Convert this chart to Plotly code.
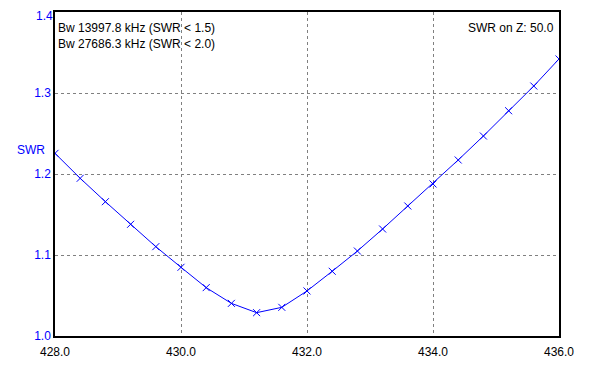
import plotly.graph_objects as go

freq_mhz = [428.0, 428.4, 428.8, 429.2, 429.6, 430.0, 430.4, 430.8, 431.2, 431.6,
            432.0, 432.4, 432.8, 433.2, 433.6, 434.0, 434.4, 434.8, 435.2, 435.6, 436.0]
swr = [1.2255, 1.1947, 1.1658, 1.1379, 1.1103, 1.0848, 1.0597, 1.0403, 1.0288, 1.0354,
       1.0556, 1.0799, 1.1049, 1.1321, 1.1605, 1.1877, 1.2173, 1.2469, 1.2781, 1.3086, 1.3420]
x_ticks = [428.0, 430.0, 432.0, 434.0, 436.0]
y_ticks = [1.0, 1.1, 1.2, 1.3, 1.4]
info_left = ["Bw 13997.8 kHz (SWR < 1.5)", "Bw 27686.3 kHz (SWR < 2.0)"]
info_right = "SWR on Z: 50.0"
y_title = "SWR"

fig = go.Figure()
fig.add_trace(go.Scatter(
    x=freq_mhz, y=swr, mode="lines+markers",
    line=dict(color="#0000ff", width=1),
    marker=dict(symbol="x-thin", size=7, line=dict(color="#0000ff", width=1), color="#0000ff"),
    cliponaxis=True, showlegend=False, hoverinfo="skip"))

font = dict(family="Arial, Liberation Sans, sans-serif", size=12, color="black")
blue_font = dict(family=font["family"], size=12, color="#0000ff")
# top tick label is drawn as an annotation so it is not clipped by the page edge
y_ticktext = [f"{v:.1f}" for v in y_ticks[:-1]] + [""]

fig.update_layout(
    width=590, height=350,
    margin=dict(l=47, r=39, t=4, b=22, pad=0),
    paper_bgcolor="white", plot_bgcolor="white",
    font=font,
    xaxis=dict(range=[428, 436], tickvals=x_ticks, ticktext=[f"{v:.1f}" for v in x_ticks],
               showgrid=True, gridcolor="#808080", griddash="3px,3px", gridwidth=1,
               showline=True, linecolor="black", linewidth=1.5, mirror=True, automargin=False,
               zeroline=False, ticks="", ticklen=0, ticklabelstandoff=4,
               ticklabeloverflow="allow",
               tickfont=dict(color="black", size=12)),
    yaxis=dict(range=[1.0, 1.4], tickvals=y_ticks, ticktext=y_ticktext,
               showgrid=True, gridcolor="#808080", griddash="3px,3px", gridwidth=1,
               showline=True, linecolor="black", linewidth=1.5, mirror=True, automargin=False,
               zeroline=False, ticks="", ticklen=0, ticklabelstandoff=0,
               ticklabeloverflow="allow",
               tickfont=blue_font),
)
fig.add_annotation(xref="paper", yref="y", x=0, y=y_ticks[-1], xanchor="right", yanchor="top",
                   xshift=-1, yshift=4, borderpad=0,
                   text=f"{y_ticks[-1]:.1f}", showarrow=False, font=blue_font)
fig.add_annotation(xref="paper", yref="paper", x=0.002, y=0.95, xanchor="left", yanchor="middle",
                   text=info_left[0], showarrow=False, font=font)
fig.add_annotation(xref="paper", yref="paper", x=0.002, y=0.90, xanchor="left", yanchor="middle",
                   text=info_left[1], showarrow=False, font=font)
fig.add_annotation(xref="paper", yref="paper", x=0.994, y=0.95, xanchor="right", yanchor="middle",
                   text=info_right, showarrow=False, font=font)
fig.add_annotation(xref="paper", yref="paper", x=-0.079, y=0.573, xanchor="left", yanchor="middle",
                   text=y_title, showarrow=False, font=blue_font)

fig.write_html("out.html")
